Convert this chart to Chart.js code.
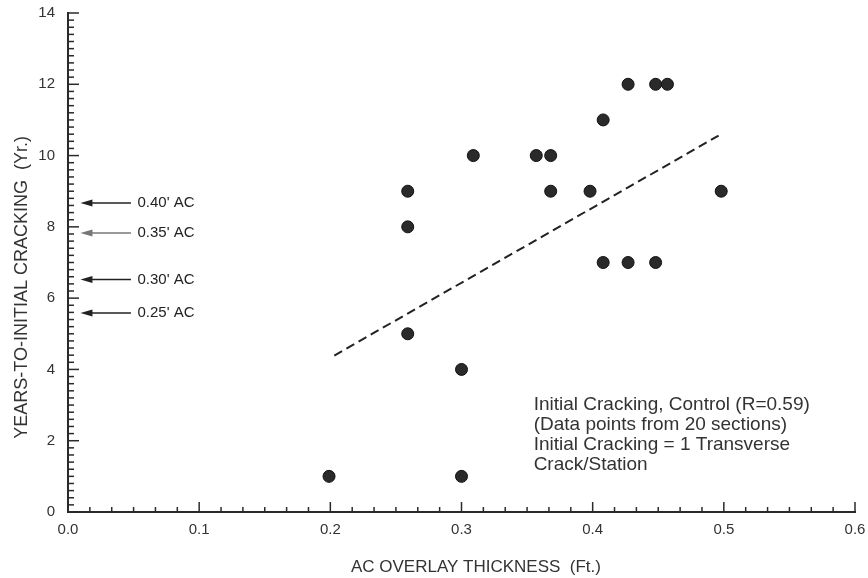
<!DOCTYPE html>
<html lang="en">
<head>
    <meta charset="UTF-8">
    <title>Years-to-initial cracking vs AC overlay thickness</title>
    <script src="https://cdn.jsdelivr.net/npm/chart.js"></script>
    <style>
        body {
            margin: 0;
            background-color: #ffffff;
            font-family: "Liberation Sans", Arial, sans-serif;
        }
        .chart-container {
            width: 868px;
            height: 578px;
        }
    </style>
</head>
<body>
    <div class="chart-container">
        <canvas id="crackChart"></canvas>
    </div>

    <script>
        // Data
        const thickness = [0.199, 0.259, 0.259, 0.259, 0.300, 0.300, 0.309, 0.357, 0.368, 0.368,
                           0.398, 0.408, 0.408, 0.427, 0.427, 0.448, 0.457, 0.448, 0.498];
        const years = [1, 9, 8, 5, 4, 1, 10, 10, 10, 9,
                       9, 11, 7, 12, 7, 12, 12, 7, 9];

        // Regression line (end points)
        const trendX = [0.203, 0.496];
        const trendY = [4.39, 10.56];

        // Design-life arrows on the left
        const arrowYears = [8.67, 7.83, 6.52, 5.58];
        const arrowLabels = ["0.40' AC", "0.35' AC", "0.30' AC", "0.25' AC"];
        const arrowColors = ['#222222', '#777777', '#222222', '#222222'];

        const noteLines = [
            'Initial Cracking, Control (R=0.59)',
            '(Data points from 20 sections)',
            'Initial Cracking = 1 Transverse',
            'Crack/Station'
        ];

        const xTitle = 'AC OVERLAY THICKNESS  (Ft.)';
        const yTitle = 'YEARS-TO-INITIAL CRACKING  (Yr.)';

        const font = '"Liberation Sans", Arial, sans-serif';
        const ink = '#2a2a2a';

        // Tick marks pointing into the plot, plus arrows, notes and axis titles
        const decorations = {
            id: 'decorations',
            afterDraw(chart) {
                const { ctx, chartArea, scales: { x, y } } = chart;
                ctx.save();
                ctx.strokeStyle = ink;
                ctx.lineWidth = 1.5;

                // x ticks: 6 subdivisions per 0.1
                for (let i = 0; i <= 36; i++) {
                    const px = x.getPixelForValue(i / 60);
                    const len = i % 6 === 0 ? 10 : 5;
                    ctx.beginPath();
                    ctx.moveTo(px, chartArea.bottom);
                    ctx.lineTo(px, chartArea.bottom - len);
                    ctx.stroke();
                }
                // y ticks: every 0.2
                for (let i = 0; i <= 70; i++) {
                    const py = y.getPixelForValue(i / 5);
                    const len = i % 10 === 0 ? 11 : 6;
                    ctx.beginPath();
                    ctx.moveTo(chartArea.left, py);
                    ctx.lineTo(chartArea.left + len, py);
                    ctx.stroke();
                }

                // arrows
                ctx.font = '15px ' + font;
                ctx.textBaseline = 'middle';
                ctx.textAlign = 'left';
                arrowYears.forEach((v, i) => {
                    const py = y.getPixelForValue(v);
                    const tip = x.getPixelForValue(0.0095);
                    const tail = x.getPixelForValue(0.048);
                    ctx.strokeStyle = arrowColors[i];
                    ctx.fillStyle = arrowColors[i];
                    ctx.lineWidth = 1.5;
                    ctx.beginPath();
                    ctx.moveTo(tip + 8, py);
                    ctx.lineTo(tail, py);
                    ctx.stroke();
                    ctx.beginPath();
                    ctx.moveTo(tip, py);
                    ctx.lineTo(tip + 12, py - 3.5);
                    ctx.lineTo(tip + 12, py + 3.5);
                    ctx.closePath();
                    ctx.fill();
                    ctx.fillStyle = '#222';
                    ctx.fillText(arrowLabels[i], x.getPixelForValue(0.053), py);
                });

                // note text
                ctx.fillStyle = '#333';
                ctx.font = '19px ' + font;
                const nx = x.getPixelForValue(0.355);
                const ny = y.getPixelForValue(3.0);
                noteLines.forEach((t, i) => ctx.fillText(t, nx, ny + i * 20));

                // axis titles
                ctx.font = '17px ' + font;
                ctx.textAlign = 'center';
                ctx.fillText(xTitle, x.getPixelForValue(0.311), chart.height - 11);
                ctx.save();
                ctx.translate(22, y.getPixelForValue(6.3));
                ctx.rotate(-Math.PI / 2);
                ctx.font = '18px ' + font;
                ctx.fillText(yTitle, 0, 0);
                ctx.restore();

                ctx.restore();
            }
        };

        const ctx = document.getElementById('crackChart').getContext('2d');

        const chart = new Chart(ctx, {
            type: 'scatter',
            data: {
                datasets: [
                    {
                        label: 'Initial cracking',
                        data: thickness.map((t, i) => ({ x: t, y: years[i] })),
                        backgroundColor: ink,
                        borderColor: '#111',
                        borderWidth: 1,
                        pointRadius: 6,
                        pointHoverRadius: 6,
                        order: 1
                    },
                    {
                        label: 'Trend',
                        type: 'line',
                        data: trendX.map((t, i) => ({ x: t, y: trendY[i] })),
                        borderColor: '#222',
                        borderWidth: 2,
                        borderDash: [9, 5],
                        pointRadius: 0,
                        fill: false,
                        order: 2
                    }
                ]
            },
            options: {
                responsive: true,
                maintainAspectRatio: false,
                animation: false,
                layout: { padding: { top: 13, right: 13, left: 0, bottom: 0 } },
                plugins: {
                    legend: { display: false },
                    tooltip: { enabled: false }
                },
                scales: {
                    x: {
                        type: 'linear',
                        min: 0,
                        max: 0.6,
                        afterFit(scale) {
                            scale.height = 66;
                            scale.paddingLeft = 0;
                            scale.paddingRight = 0;
                        },
                        grid: { display: true, drawOnChartArea: false, drawTicks: false },
                        border: { display: true, color: ink, width: 2 },
                        ticks: {
                            stepSize: 0.1,
                            padding: 9,
                            color: '#333',
                            font: { family: font, size: 15 },
                            callback: v => v.toFixed(1)
                        }
                    },
                    y: {
                        min: 0,
                        max: 14,
                        afterFit(scale) {
                            scale.width = 68;
                            scale.paddingTop = 0;
                            scale.paddingBottom = 0;
                        },
                        grid: { display: true, drawOnChartArea: false, drawTicks: false },
                        border: { display: true, color: ink, width: 2 },
                        ticks: {
                            stepSize: 2,
                            padding: 13,
                            color: '#333',
                            font: { family: font, size: 15 }
                        }
                    }
                }
            },
            plugins: [decorations]
        });
    </script>
</body>
</html>
